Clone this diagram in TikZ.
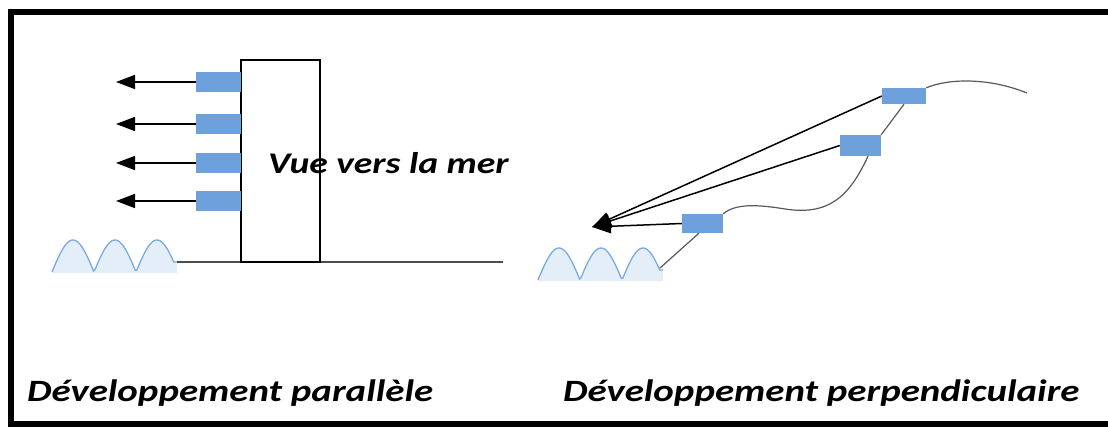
\documentclass[tikz,border=0pt]{standalone}
\usepackage{fontspec}
\setmainfont{Carlito}
\usepackage{xcolor}
\usepackage{tikz}
\usetikzlibrary{arrows.meta}
\definecolor{lotblue}{RGB}{110,160,220}
\definecolor{seablue}{RGB}{120,170,225}
\newcommand{\wide}[1]{\scalebox{1.255}[1]{#1}}
\tikzset{
    Lot/.style = {fill=lotblue,inner sep=0pt,minimum width=43pt,minimum height=19pt},
    Caption/.style = {font=\fontsize{31}{36}\selectfont\bfseries\itshape,inner sep=0pt},
    Sight/.style = {line width=1.5pt,draw=black,-{Triangle[length=19pt,width=14pt]}},
    Hill/.style = {line width=1.2pt,draw=black!65}
}
\begin{document}
\begin{tikzpicture}[x=1pt,y=-1pt]
        \useasboundingbox (0,0) rectangle (1108,428);
        \fill[white] (0,0) rectangle (1108,428);
        % frame
        \draw[line width=6pt] (1120,12) -- (11,12) -- (11,424) -- (1120,424);
        % waves
        \foreach \dx/\dy in {0/0,486/8}
            {\begin{scope}[shift={(\dx,\dy)}]
             \fill[seablue!20] plot[domain=0:2.9,samples=80] ({52+\x*42},{272-32*abs(sin(\x*180))})
                 -- (177,262) -- (177,273) -- (52,273) -- cycle;
             \draw[seablue,line width=1.3pt] plot[domain=0:2.9,samples=80] ({52+\x*42},{272-32*abs(sin(\x*180))})
                 -- (177,262);
             \end{scope}}
        % parallel development
        \coordinate (G0) at (177,262);
        \coordinate (G1) at (503,262);
        \draw[line width=1.2pt,black!70] (G0) -- (G1);
        \node[draw,line width=1.2pt,inner sep=0pt,minimum width=79pt,minimum height=202pt] (B) at (280.5,161) {};
        \foreach \Y [count=\i] in {82,124,163,201}
            {\node[Lot,minimum width=45pt,minimum height=20pt] (L\i) at (218.5,\Y) {};
             \coordinate (T\i) at (116,\Y);
             \draw[Sight] (L\i.west) -- (T\i);}
        \node[Caption,font=\fontsize{30}{34}\selectfont\bfseries\itshape,anchor=base west] (view) at (268,173) {\wide{Vue vers la mer}};
        % perpendicular development
        \node[Lot,minimum width=44pt,minimum height=16pt] (R1) at (904,96) {};
        \node[Lot,minimum width=41pt,minimum height=21pt] (R2) at (860.5,145.5) {};
        \node[Lot,minimum width=41pt,minimum height=19pt] (R3) at (702.5,223.5) {};
        \coordinate (H0) at (660,268);
        \coordinate (H1) at (1027,93);
        \coordinate (V) at (592,227);
        \draw[Hill] (H0) -- (R3.250);
        \draw[Hill] (R3.north east) .. controls (735,204) and (755,204) .. (785,209)
            .. controls (830,216) and (850,195) .. (R2.-55);
        \draw[Hill] (R2.north east) -- (R1.south);
        \draw[Hill] (R1.north east) .. controls (950,78) and (990,78) .. (H1);
        \draw[Sight] (R1.west) -- (V);
        \draw[Sight] (R2.west) -- (V);
        \draw[Sight] (R3.west) -- (V);
        % captions
        \node[Caption,anchor=base west] (capPar) at (27,401) {\wide{Développement parallèle}};
        \node[Caption,anchor=base west] (capPerp) at (563,401) {\wide{Développement perpendiculaire}};
\end{tikzpicture}
\end{document}
